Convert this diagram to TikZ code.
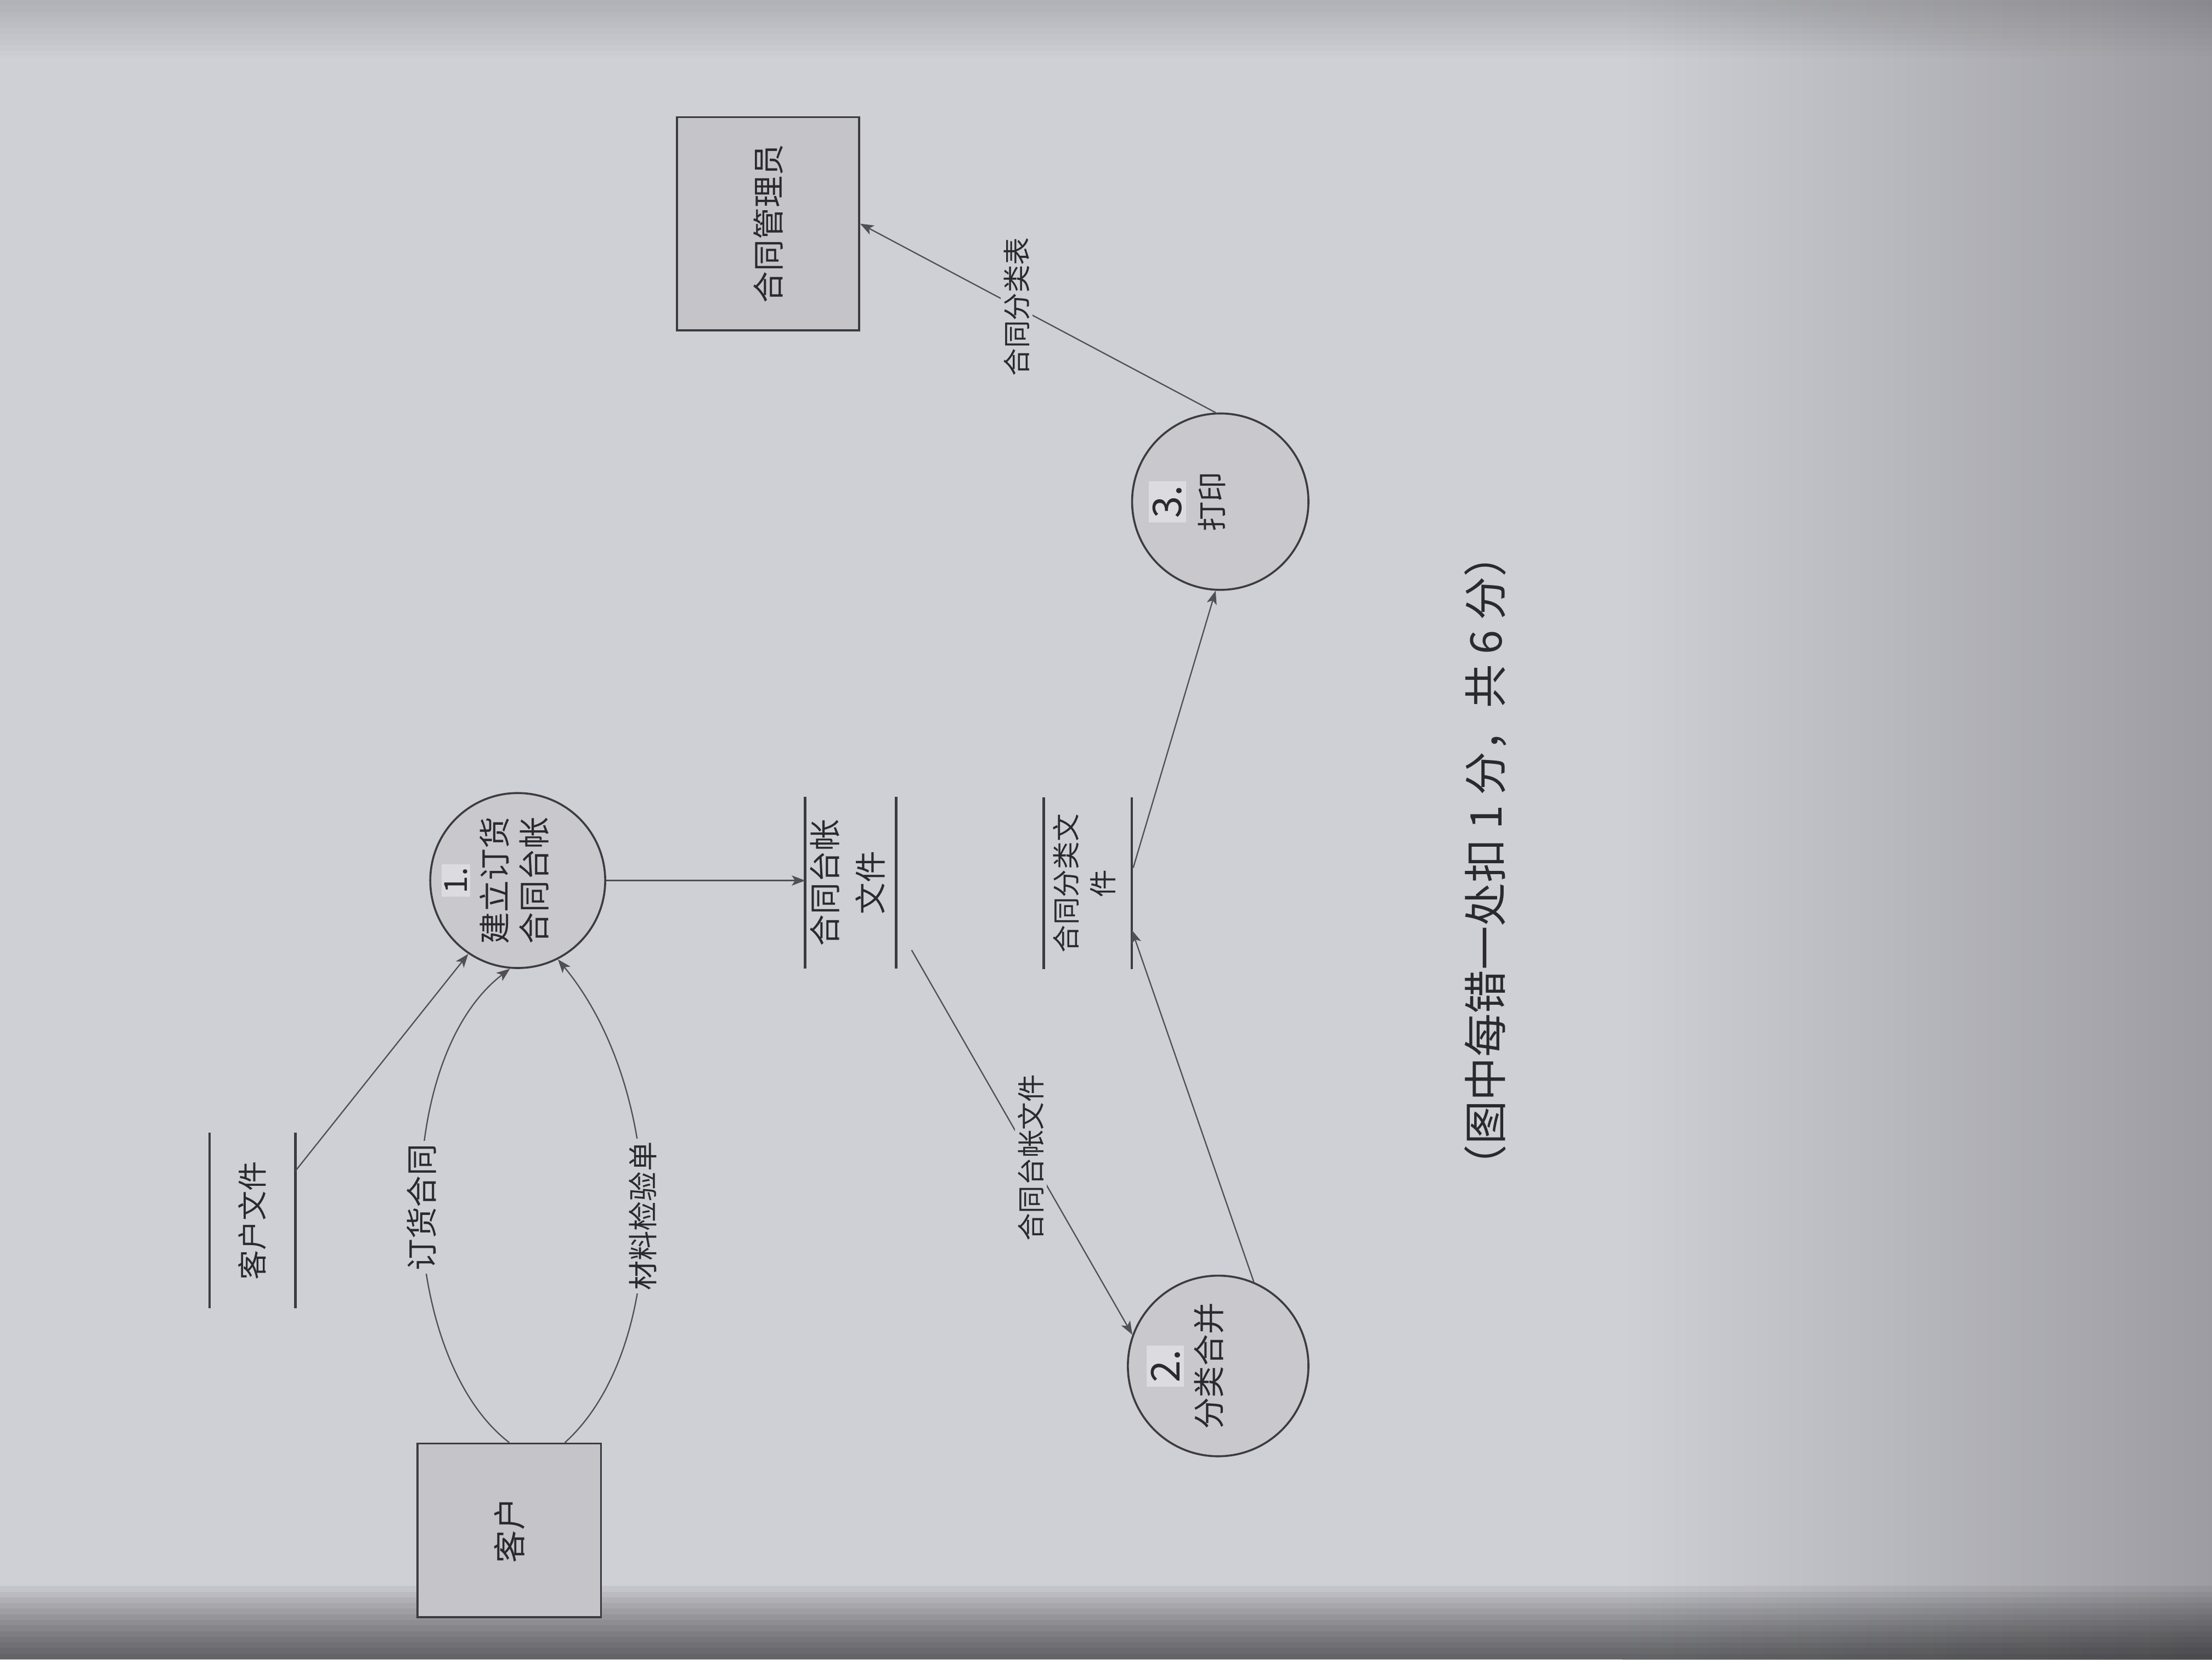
\documentclass[tikz,border=0pt]{standalone}
\usepackage{fontspec}
\setmainfont{Noto Sans CJK SC}
\usepackage{graphicx}
\usetikzlibrary{arrows.meta,calc}
\definecolor{bgcol}{HTML}{CFD0D6}
\definecolor{bgdark}{HTML}{9C9CA2}
\definecolor{proccol}{HTML}{C8C8CD}
\definecolor{boxcol}{HTML}{C4C4C9}
\definecolor{hlcol}{HTML}{DCDCE0}
\definecolor{linecol}{HTML}{3C3C40}
\definecolor{flowcol}{HTML}{505054}
\definecolor{txtcol}{HTML}{2A2A2E}
\begin{document}
\begin{tikzpicture}[x=0.25mm,y=-0.25mm,
  every node/.append style={text=txtcol},
  proc/.style={circle, draw=linecol, line width=1pt, fill=proccol, inner sep=0pt},
  ext/.style={rectangle, draw=linecol, line width=1pt, fill=boxcol, inner sep=0pt},
  store/.style={rectangle, inner sep=0pt, minimum width=15.5mm, minimum height=30.5mm},
  storeline/.style={draw=linecol, line width=1.3pt},
  flow/.style={draw=flowcol, line width=0.65pt, -{Stealth[length=2.4mm,width=1.8mm,inset=0.6mm]}},
  flowlbl/.style={rotate=90, fill=bgcol, inner sep=1.5pt, font=\fontsize{14pt}{16pt}\selectfont},
  shadow/.style={fill=black, fill opacity=#1, draw=none},
]
% background (photo of paper)
\useasboundingbox (0,0) rectangle (1568,1176);
\fill[bgcol] (0,0) rectangle (1568,1176);
\shade[left color=bgcol, right color=bgdark] (1150,0) rectangle (1568,1176);
\foreach \i in {0,...,9}{
  \fill[shadow=0.01] (0,0) rectangle (1568,{4+\i*4});
}
\foreach \i in {0,...,12}{
  \fill[shadow=0.05] (0,{1176-4*(\i+1)}) rectangle (1568,1176);
}

% external entities
\node[ext, minimum width=32.25mm, minimum height=37.75mm] (m) at (544.5,158.5)
  {\rotatebox{90}{\fontsize{16pt}{18pt}\selectfont 合同管理员}};
\node[ext, minimum width=32.5mm, minimum height=30.75mm] (k) at (361,1084.5)
  {\rotatebox{90}{\fontsize{16.5pt}{18pt}\selectfont 客户}};

% processes
\node[proc, minimum size=31mm] (p1) at (367,624)
  {\makebox[0pt]{\rotatebox{90}{\fontsize{16pt}{20pt}\selectfont\setlength{\fboxsep}{1.5pt}%
   \begin{tabular}{@{}c@{}}\colorbox{hlcol}{1.}\\ 建立订货\\ 合同台帐\end{tabular}}\hspace{6.75mm}\null}};
\node[proc, minimum size=32mm] (p2) at (863.5,968)
  {\makebox[0pt]{\rotatebox{90}{\fontsize{16pt}{20pt}\selectfont\setlength{\fboxsep}{2pt}%
   \begin{tabular}{@{}c@{}}\colorbox{hlcol}{\fontsize{20pt}{22pt}\selectfont 2.}\\[1pt] 分类合并\end{tabular}}\hspace{10mm}\null}};
\node[proc, minimum size=31.25mm] (p3) at (865,355.5)
  {\makebox[0pt]{\rotatebox{90}{\fontsize{15pt}{20pt}\selectfont\setlength{\fboxsep}{2pt}%
   \begin{tabular}{@{}c@{}}\colorbox{hlcol}{\fontsize{20pt}{22pt}\selectfont 3.}\\[1pt] 打印\end{tabular}}\hspace{10mm}\null}};

% data stores
\node[store, minimum width=15.1mm, minimum height=31mm] (s1) at (179,865)
  {\rotatebox{90}{\fontsize{15pt}{17pt}\selectfont 客户文件}};
\node[store, minimum width=15.5mm, minimum height=30.25mm] (s2) at (603,625.5)
  {\rotatebox{90}{\fontsize{16pt}{22.7pt}\selectfont\begin{tabular}{@{}c@{}}合同台帐\\ 文件\end{tabular}}};
\node[store, minimum width=15.5mm, minimum height=30.25mm] (s3) at (771,626)
  {\rotatebox{90}{\fontsize{14pt}{18.4pt}\selectfont\begin{tabular}{@{}c@{}}合同分类文\\ 件\end{tabular}}};
\foreach \s in {s1,s2,s3}{
  \draw[storeline] (\s.north west) -- (\s.south west) (\s.north east) -- (\s.south east);
}

% flows
\draw[flow] ($(s1.north east)+(0,27)$) -- (p1.236);
\draw[flow] (k.north) .. controls (280,960) and (276,752) .. (p1.265)
  node[flowlbl, pos=0.5, font=\fontsize{16pt}{18pt}\selectfont] {订货合同};
\draw[flow] ($(k.north west)!0.8!(k.north east)$) .. controls (475,955) and (475,776) .. (p1.297)
  node[flowlbl, pos=0.5, font=\fontsize{15pt}{17pt}\selectfont] {材料检验单};
\draw[flow] (p1.east) -- (p1.east -| s2.west);
\draw[flow] ($(s2.south east)+(11,-13)$) -- (p2.160)
  node[flowlbl, pos=0.54] {合同台帐文件};
\draw[flow] (p2.67) -- ($(s3.east)+(0,33)$);
\draw[flow] ($(s3.east)+(1,-11)$) -- (p3.267);
\draw[flow] (p3.93) -- (m.east)
  node[flowlbl, pos=0.56] {合同分类表};

% caption
\node[rotate=90, font=\fontsize{22pt}{26pt}\selectfont] (cap) at (1053,610)
  {（图中每错一处扣 1 分，共 6 分）};
\end{tikzpicture}
\end{document}
